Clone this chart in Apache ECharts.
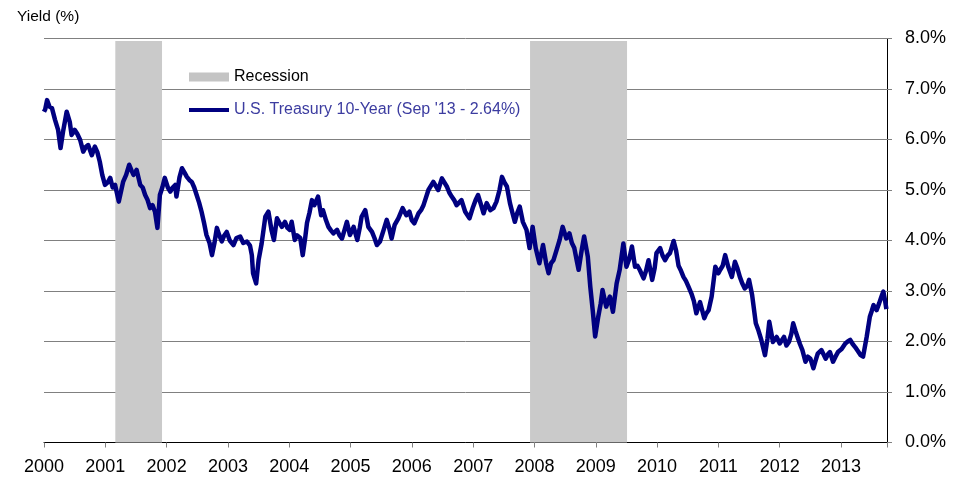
<!DOCTYPE html>
<html>
<head>
<meta charset="utf-8">
<title>U.S. Treasury 10-Year Yield</title>
<script src="https://cdn.jsdelivr.net/npm/echarts@6/dist/echarts.min.js"></script>
<style>
  html, body { margin: 0; padding: 0; background: #fff; }
  #chart { width: 967px; height: 477px; }
</style>
</head>
<body>
<div id="chart"></div>
<script>
// decimal years
var dates = [
    2000.00, 2000.02, 2000.05, 2000.09, 2000.13, 2000.18, 2000.23, 2000.27, 2000.31, 2000.37,
    2000.42, 2000.45, 2000.50, 2000.54, 2000.59, 2000.64, 2000.68, 2000.72, 2000.78, 2000.83,
    2000.87, 2000.91, 2000.95, 2000.995, 2001.04, 2001.08, 2001.12, 2001.16, 2001.22, 2001.29,
    2001.34, 2001.39, 2001.43, 2001.46, 2001.51, 2001.57, 2001.61, 2001.65, 2001.69, 2001.73,
    2001.77, 2001.81, 2001.85, 2001.89, 2001.93, 2001.97, 2002.02, 2002.06, 2002.10, 2002.14,
    2002.16, 2002.21, 2002.25, 2002.29, 2002.33, 2002.37, 2002.41, 2002.45, 2002.49, 2002.53,
    2002.57, 2002.61, 2002.65, 2002.70, 2002.74, 2002.78, 2002.82, 2002.86, 2002.90, 2002.94,
    2002.98, 2003.03, 2003.09, 2003.14, 2003.20, 2003.25, 2003.31, 2003.36, 2003.39, 2003.41,
    2003.46, 2003.50, 2003.55, 2003.61, 2003.66, 2003.71, 2003.75, 2003.80, 2003.84, 2003.88,
    2003.93, 2003.97, 2004.01, 2004.04, 2004.09, 2004.13, 2004.18, 2004.22, 2004.26, 2004.29,
    2004.33, 2004.37, 2004.41, 2004.47, 2004.52, 2004.55, 2004.60, 2004.64, 2004.68, 2004.72,
    2004.78, 2004.82, 2004.86, 2004.90, 2004.94, 2004.99, 2005.05, 2005.11, 2005.15, 2005.18,
    2005.24, 2005.29, 2005.35, 2005.39, 2005.43, 2005.48, 2005.54, 2005.59, 2005.63, 2005.67,
    2005.72, 2005.78, 2005.85, 2005.91, 2005.96, 2006.00, 2006.04, 2006.11, 2006.15, 2006.19,
    2006.23, 2006.27, 2006.35, 2006.43, 2006.49, 2006.53, 2006.57, 2006.61, 2006.65, 2006.69,
    2006.73, 2006.77, 2006.81, 2006.87, 2006.90, 2006.94, 2007.00, 2007.04, 2007.08, 2007.13,
    2007.17, 2007.22, 2007.28, 2007.33, 2007.38, 2007.43, 2007.47, 2007.51, 2007.55, 2007.60,
    2007.64, 2007.68, 2007.72, 2007.76, 2007.81, 2007.87, 2007.92, 2007.97, 2008.02, 2008.05,
    2008.08, 2008.14, 2008.19, 2008.23, 2008.27, 2008.31, 2008.36, 2008.41, 2008.46, 2008.52,
    2008.57, 2008.61, 2008.65, 2008.69, 2008.72, 2008.77, 2008.81, 2008.87, 2008.91, 2008.95,
    2008.99, 2009.04, 2009.08, 2009.11, 2009.17, 2009.23, 2009.28, 2009.34, 2009.39, 2009.45,
    2009.50, 2009.55, 2009.59, 2009.64, 2009.68, 2009.72, 2009.78, 2009.82, 2009.86, 2009.92,
    2009.96, 2009.99, 2010.05, 2010.09, 2010.13, 2010.17, 2010.21, 2010.27, 2010.31, 2010.35,
    2010.39, 2010.43, 2010.47, 2010.51, 2010.56, 2010.60, 2010.64, 2010.70, 2010.77, 2010.80,
    2010.84, 2010.89, 2010.95, 2011.00, 2011.03, 2011.07, 2011.11, 2011.16, 2011.22, 2011.27,
    2011.31, 2011.35, 2011.39, 2011.43, 2011.47, 2011.50, 2011.55, 2011.61, 2011.65, 2011.70,
    2011.76, 2011.80, 2011.83, 2011.89, 2011.95, 2012.00, 2012.07, 2012.11, 2012.15, 2012.19,
    2012.22, 2012.26, 2012.29, 2012.33, 2012.37, 2012.42, 2012.46, 2012.50, 2012.55, 2012.58,
    2012.62, 2012.68, 2012.75, 2012.79, 2012.82, 2012.87, 2012.91, 2012.95, 2013.01, 2013.07,
    2013.11, 2013.15, 2013.19, 2013.23, 2013.28, 2013.32, 2013.36, 2013.42, 2013.47, 2013.50,
    2013.53, 2013.58, 2013.62, 2013.66, 2013.69, 2013.72, 2013.74
];

// 10-year yield in %
var yields = [
    6.55, 6.60, 6.78, 6.65, 6.62, 6.39, 6.19, 5.83, 6.15, 6.55,
    6.35, 6.09, 6.19, 6.12, 5.99, 5.76, 5.85, 5.89, 5.69, 5.86,
    5.75, 5.56, 5.30, 5.10, 5.15, 5.24, 5.05, 5.10, 4.77, 5.16,
    5.30, 5.50, 5.38, 5.30, 5.40, 5.10, 5.05, 4.90, 4.80, 4.64,
    4.70, 4.57, 4.25, 4.90, 5.05, 5.24, 5.05, 4.97, 5.05, 5.10,
    4.87, 5.25, 5.43, 5.35, 5.26, 5.20, 5.16, 5.05, 4.90, 4.75,
    4.57, 4.35, 4.11, 3.95, 3.71, 3.95, 4.25, 4.10, 3.98, 4.10,
    4.17, 4.00, 3.91, 4.05, 4.08, 3.95, 3.98, 3.90, 3.71, 3.35,
    3.15, 3.61, 3.94, 4.47, 4.57, 4.21, 4.01, 4.44, 4.35, 4.27,
    4.37, 4.25, 4.21, 4.37, 4.01, 4.10, 4.05, 3.71, 4.05, 4.35,
    4.55, 4.80, 4.70, 4.87, 4.50, 4.60, 4.40, 4.27, 4.20, 4.14,
    4.21, 4.10, 4.04, 4.20, 4.37, 4.11, 4.27, 4.01, 4.25, 4.47,
    4.60, 4.27, 4.17, 4.05, 3.91, 3.98, 4.21, 4.41, 4.25, 4.04,
    4.31, 4.44, 4.64, 4.50, 4.57, 4.40, 4.34, 4.54, 4.60, 4.70,
    4.85, 5.00, 5.16, 5.00, 5.23, 5.15, 5.07, 4.95, 4.87, 4.80,
    4.70, 4.75, 4.80, 4.57, 4.54, 4.44, 4.67, 4.80, 4.90, 4.70,
    4.54, 4.74, 4.60, 4.64, 4.77, 5.00, 5.26, 5.15, 5.07, 4.74,
    4.55, 4.37, 4.55, 4.67, 4.37, 4.21, 3.85, 4.27, 3.85, 3.70,
    3.55, 3.91, 3.55, 3.35, 3.55, 3.61, 3.81, 4.01, 4.27, 4.04,
    4.14, 3.95, 3.85, 3.60, 3.42, 3.81, 4.08, 3.68, 3.09, 2.62,
    2.10, 2.49, 2.75, 3.02, 2.69, 2.89, 2.59, 3.15, 3.42, 3.94,
    3.48, 3.65, 3.88, 3.48, 3.50, 3.41, 3.25, 3.40, 3.61, 3.22,
    3.45, 3.75, 3.85, 3.70, 3.61, 3.70, 3.75, 3.99, 3.80, 3.50,
    3.40, 3.28, 3.20, 3.09, 2.95, 2.80, 2.56, 2.78, 2.46, 2.55,
    2.62, 2.89, 3.48, 3.35, 3.42, 3.50, 3.71, 3.48, 3.28, 3.58,
    3.45, 3.28, 3.15, 3.05, 3.10, 3.22, 2.92, 2.36, 2.23, 2.03,
    1.73, 2.05, 2.39, 1.99, 2.09, 1.96, 2.09, 1.92, 1.99, 2.15,
    2.36, 2.20, 2.09, 1.95, 1.83, 1.60, 1.70, 1.66, 1.47, 1.60,
    1.76, 1.83, 1.66, 1.75, 1.79, 1.60, 1.70, 1.79, 1.85, 1.96,
    2.00, 2.03, 1.95, 1.89, 1.80, 1.73, 1.70, 2.10, 2.49, 2.60,
    2.72, 2.62, 2.75, 2.89, 2.99, 2.80, 2.64
];

// recession periods (start, end) in decimal years
var recessionStart = [2001.163, 2007.928];
var recessionEnd = [2001.925, 2009.51];

var seriesName = "U.S. Treasury 10-Year (Sep '13 - 2.64%)";
var font = 'Liberation Sans, Arial, sans-serif';

var lineData = [];
for (var i = 0; i < dates.length; i++) {
    lineData.push([dates[i], yields[i]]);
}

var bands = [];
for (var j = 0; j < recessionStart.length; j++) {
    bands.push([{ xAxis: recessionStart[j], yAxis: 0 }, { xAxis: recessionEnd[j], yAxis: 7.95 }]);
}

var myChart = echarts.init(document.getElementById('chart'));

var option = {
    animation: false,
    backgroundColor: '#fff',
    textStyle: { fontFamily: font },
    title: {
        text: 'Yield (%)',
        left: 12,
        top: 4,
        textStyle: { fontFamily: font, fontSize: 15.5, fontWeight: 'normal', color: '#000' }
    },
    legend: [
        {
            data: [{ name: 'Recession', icon: 'rect' }],
            left: 184,
            top: 64,
            itemWidth: 40,
            itemHeight: 9,
            textStyle: { fontFamily: font, fontSize: 16, color: '#000' },
            selectedMode: false
        },
        {
            data: [{ name: seriesName, icon: 'rect', textStyle: { color: '#3c3ca0' } }],
            left: 184,
            top: 97,
            itemWidth: 40,
            itemHeight: 4,
            textStyle: { fontFamily: font, fontSize: 16, color: '#3c3ca0' },
            selectedMode: false
        }
    ],
    grid: {
        left: 44,
        right: 80,
        top: 38.5,
        bottom: 34.5
    },
    xAxis: {
        type: 'value',
        min: 2000,
        max: 2013.75,
        interval: 1,
        axisLine: { show: true, lineStyle: { color: '#000', width: 1 } },
        axisTick: { show: true, length: 5, lineStyle: { color: '#808080' } },
        axisLabel: {
            fontFamily: font,
            fontSize: 18,
            color: '#000',
            margin: 16,
            formatter: function (v) {
                return Math.abs(v - Math.round(v)) < 1e-6 ? String(Math.round(v)) : '';
            }
        },
        splitLine: { show: false }
    },
    yAxis: {
        type: 'value',
        position: 'right',
        min: 0,
        max: 8,
        interval: 1,
        axisLine: { show: true, lineStyle: { color: '#000', width: 1 } },
        axisTick: { show: true, length: 5, lineStyle: { color: '#808080' } },
        axisLabel: {
            fontFamily: font,
            fontSize: 18,
            color: '#000',
            margin: 18,
            formatter: function (v) { return v.toFixed(1) + '%'; }
        },
        splitLine: { show: true, lineStyle: { color: '#808080', width: 1 } }
    },
    series: [
        {
            name: 'Recession',
            type: 'line',
            data: [],
            z: 1,
            itemStyle: { color: '#c4c4c4' },
            lineStyle: { color: '#c4c4c4' },
            markArea: {
                silent: true,
                itemStyle: { color: '#cacaca' },
                data: bands
            }
        },
        {
            name: seriesName,
            type: 'line',
            data: lineData,
            z: 3,
            symbol: 'none',
            smooth: false,
            itemStyle: { color: '#000080' },
            lineStyle: { color: '#000080', width: 4.5, join: 'round' }
        }
    ]
};

myChart.setOption(option);
</script>
</body>
</html>
